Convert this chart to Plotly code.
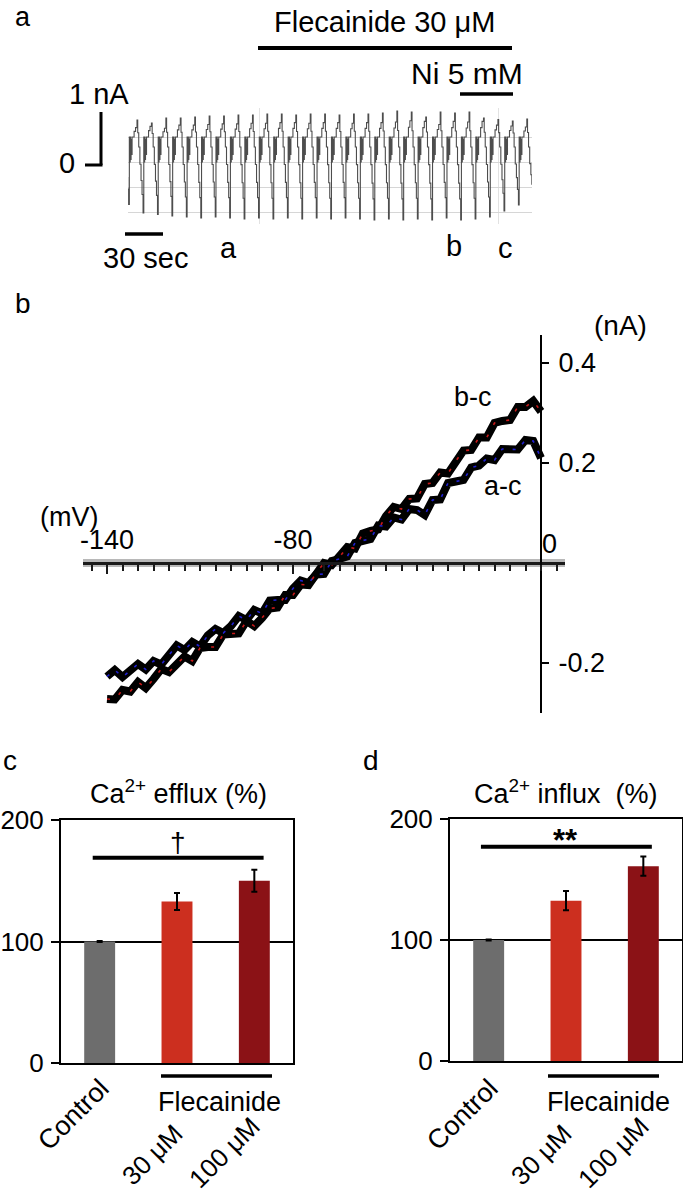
import plotly.graph_objects as go

W, H = 683, 1196
FONT = "Liberation Sans"


def PX(x):
    return x / W


def PY(y):
    return 1 - y / H


# ---------------- Panel a: current trace ----------------
# one voltage-ramp cycle (phase within cycle, current in nA for a cycle with peak 0.9 / trough -1.1)
CYCLE_PHASE = [0.00, 0.05, 0.12, 0.20, 0.28, 0.35, 0.42, 0.47, 0.50, 0.53, 0.56, 0.59, 0.63, 0.66, 0.80, 0.90]
CYCLE_LEVEL = [0.90, 0.60, 0.30, -0.05, -0.40, -0.70, -1.10, 0.50, 0.00, 0.50, 0.05, 0.45, 0.15, 0.50, 0.65, 0.75]
# per-cycle peak and trough currents (nA), first entry = partial cycle before the first peak
CYCLE_PEAK = [0.80, 0.84, 0.78, 0.88, 0.88, 0.90, 0.92, 0.92, 0.94, 0.94, 0.96, 0.96, 0.94, 0.96, 0.96,
              0.94, 0.96, 0.96, 0.98, 1.02, 1.00, 0.90, 1.00, 0.98, 1.00, 0.88, 0.85, 0.82, 0.86]
CYCLE_TROUGH = [-0.85, -1.02, -1.05, -1.08, -1.10, -1.12, -1.10, -1.12, -1.14, -1.12, -1.14, -1.12, -1.14,
                -1.12, -1.14, -1.12, -1.14, -1.16, -1.14, -1.16, -1.14, -1.16, -1.12, -1.16, -1.14, -1.10,
                -0.98, -0.86, -0.70]
FIRST_PEAK_S = 7.2
PERIOD_S = 11.55
TRACE_END_S = 323.2
GRID_NA = [0.5, 0.0, -0.5, -1.0]
EVENT_S = [104.8, 296.0]

# ---------------- Panel b: I-V curves ----------------
MV = [-140, -137.5, -135, -132.5, -130, -127.5, -125, -122.5, -120, -117.5, -115, -112.5, -110, -107.5,
      -105, -102.5, -100, -97.5, -95, -92.5, -90, -87.5, -85, -82.5, -80, -77.5, -75, -72.5, -70, -67.5,
      -65, -62.5, -60, -57.5, -55, -52.5, -50, -47.5, -45, -42.5, -40, -37.5, -35, -32.5, -30, -27.5,
      -25, -22.5, -20, -17.5, -15, -12.5, -10, -7.5, -5, -2.5, 0]
AC_NA = [-0.227, -0.214, -0.228, -0.214, -0.202, -0.213, -0.196, -0.203, -0.184, -0.165, -0.174, -0.158,
         -0.167, -0.145, -0.132, -0.140, -0.126, -0.106, -0.114, -0.094, -0.101, -0.075, -0.074, -0.074,
         -0.051, -0.035, -0.040, -0.023, -0.022, 0.004, 0.008, 0.013, 0.040, 0.045, 0.048, 0.075, 0.073,
         0.091, 0.087, 0.108, 0.106, 0.096, 0.126, 0.127, 0.160, 0.163, 0.166, 0.191, 0.195, 0.209, 0.206,
         0.228, 0.227, 0.227, 0.246, 0.244, 0.210]
BC_NA = [-0.272, -0.273, -0.254, -0.257, -0.238, -0.250, -0.232, -0.212, -0.218, -0.202, -0.187, -0.196,
         -0.170, -0.168, -0.168, -0.143, -0.141, -0.141, -0.116, -0.126, -0.110, -0.091, -0.089, -0.064,
         -0.064, -0.043, -0.044, -0.020, 0.000, -0.004, 0.012, 0.032, 0.029, 0.059, 0.064, 0.067, 0.094,
         0.112, 0.108, 0.128, 0.129, 0.158, 0.160, 0.181, 0.179, 0.204, 0.225, 0.226, 0.251, 0.251, 0.280,
         0.284, 0.286, 0.312, 0.312, 0.324, 0.303]

# ---------------- Panels c, d: bar charts ----------------
GROUPS = ["Control", "30 μM", "100 μM"]
BAR_COLORS = ["#6d6d6d", "#cc2f1f", "#8b1216"]
EFFLUX = [100, 133, 150]
EFFLUX_ERR = [0.5, 7, 9]
INFLUX = [100, 132.5, 161]
INFLUX_ERR = [0.5, 8, 8]
EFFLUX_SIG_Y = 169
INFLUX_SIG_Y = 177

# ---------------- build trace for panel a ----------------
tx, ty = [], []
for k in range(len(CYCLE_PEAK)):
    start = FIRST_PEAK_S + (k - 1) * PERIOD_S
    P, T = CYCLE_PEAK[k], CYCLE_TROUGH[k]
    for ph, lv in zip(CYCLE_PHASE, CYCLE_LEVEL):
        if lv > 0.5:
            v = 0.5 + (lv - 0.5) * (P - 0.5) / 0.4
        elif lv < 0:
            v = lv * T / -1.1
        else:
            v = lv
        tx.append(start + ph * PERIOD_S)
        ty.append(v)

fig = go.Figure()

fig.add_trace(go.Scatter(x=tx, y=ty, mode="lines", line=dict(color="#4d4d4d", width=1.1, shape="hv"),
                         xaxis="x", yaxis="y", showlegend=False, hoverinfo="skip"))

# I-V curves: black outline then colored core
for ys in (AC_NA, BC_NA):
    fig.add_trace(go.Scatter(x=MV, y=ys, mode="lines", line=dict(color="black", width=8),
                             xaxis="x2", yaxis="y2", showlegend=False))
fig.add_trace(go.Scatter(x=MV, y=AC_NA, mode="lines", line=dict(color="#2020d0", width=1.6, dash="3px,9px"),
                         xaxis="x2", yaxis="y2", showlegend=False))
fig.add_trace(go.Scatter(x=MV, y=BC_NA, mode="lines", line=dict(color="#c81818", width=1.6, dash="3px,11px"),
                         xaxis="x2", yaxis="y2", showlegend=False))

# bar charts
xpos = [0, 1, 2]
fig.add_trace(go.Bar(x=xpos, y=EFFLUX, width=0.4, marker=dict(color=BAR_COLORS, line=dict(width=0)),
                     error_y=dict(type="data", array=EFFLUX_ERR, color="black", thickness=2, width=3),
                     xaxis="x3", yaxis="y3", showlegend=False))
fig.add_trace(go.Bar(x=xpos, y=INFLUX, width=0.4, marker=dict(color=BAR_COLORS, line=dict(width=0)),
                     error_y=dict(type="data", array=INFLUX_ERR, color="black", thickness=2, width=3),
                     xaxis="x4", yaxis="y4", showlegend=False))

# ---------------- axes ----------------
px_per_mv = 3.1
x0_px, y0_px, px_per_na = 541, 563, 500

layout = dict(
    width=W, height=H, margin=dict(l=0, r=0, t=0, b=0, autoexpand=False),
    paper_bgcolor="white", plot_bgcolor="rgba(0,0,0,0)",
    font=dict(family=FONT, color="black", size=27),
    showlegend=False,
    # panel a
    xaxis=dict(domain=[PX(128), PX(532)], range=[0, TRACE_END_S], anchor="y", automargin=False,
               tickvals=EVENT_S, showticklabels=False, ticks="", showgrid=True, gridcolor="#e2e2e2",
               gridwidth=1, zeroline=False, showline=False),
    yaxis=dict(domain=[PY(224), PY(108)], range=[(162 - 224) / 50, (162 - 108) / 50], anchor="x",
               automargin=False,
               tickvals=GRID_NA, showticklabels=False, ticks="", showgrid=True, gridcolor="#d6d6d6",
               gridwidth=1, zeroline=False, showline=False),
    # panel b
    xaxis2=dict(domain=[PX(83), PX(565)],
                range=[(83 - x0_px) / px_per_mv, (565 - x0_px) / px_per_mv],
                anchor="free", position=PY(y0_px), side="top", automargin=False,
                showline=True, linecolor="#1a1a1a", linewidth=3,
                tickvals=[-140, -80], ticktext=["-140", "-80"],
                ticks="inside", ticklen=9, tickwidth=2, tickcolor="#1a1a1a",
                minor=dict(dtick=5, tick0=0, ticks="inside", ticklen=6, tickwidth=1.5, tickcolor="#1a1a1a"),
                tickfont=dict(size=27), ticklabelstandoff=2,
                showgrid=False, zeroline=False),
    yaxis2=dict(domain=[PY(713), PY(335)],
                range=[(y0_px - 713) / px_per_na, (y0_px - 335) / px_per_na],
                anchor="free", position=PX(x0_px), side="right", automargin=False,
                showline=True, linecolor="black", linewidth=2,
                tickvals=[-0.2, 0.2, 0.4], ticktext=["-0.2", "0.2", "0.4"],
                ticks="outside", ticklen=7, tickwidth=2, tickcolor="black",
                tickfont=dict(size=27), ticklabelstandoff=4,
                showgrid=False, zeroline=False),
)

bar_y = dict(range=[0, 200], tickvals=[0, 100, 200], ticks="outside", ticklen=8, tickwidth=1.5,
             tickcolor="black", showline=True, linecolor="black", linewidth=2, mirror=True,
             showgrid=True, gridcolor="black", gridwidth=1.5, zeroline=False, automargin=False,
             tickfont=dict(size=26), ticklabelstandoff=2)
bar_x = dict(range=[-0.5, 2.5], showticklabels=False, ticks="", showline=True, linecolor="black",
             linewidth=2, mirror=True, showgrid=False, zeroline=False, automargin=False)
layout["xaxis3"] = dict(bar_x, domain=[PX(61), PX(293)], anchor="y3")
layout["yaxis3"] = dict(bar_y, domain=[PY(1063), PY(820)], anchor="x3")
layout["xaxis4"] = dict(bar_x, domain=[PX(450), PX(682)], anchor="y4")
layout["yaxis4"] = dict(bar_y, domain=[PY(1061), PY(819)], anchor="x4")

fig.update_layout(**layout)

# ---------------- shapes ----------------
def pline(x0, y0, x1, y1, w=3, color="black", layer="above"):
    fig.add_shape(type="line", xref="paper", yref="paper", x0=PX(x0), y0=PY(y0), x1=PX(x1), y1=PY(y1),
                  line=dict(color=color, width=w), layer=layer)

pline(258, 48, 512, 48, 4)      # Flecainide bar
pline(460, 94, 513, 94, 3.5)    # Ni bar
pline(101, 112, 101, 165, 3)    # 1 nA scale
pline(85, 165, 102.5, 165, 3)
pline(125, 234, 163, 234, 3.5)  # 30 sec scale
pline(83, y0_px, 565, y0_px, 8, "rgba(0,0,0,0.28)", "below")  # axis shadow
pline(161, 1076, 272, 1076, 3.5)  # Flecainide group bar c
pline(548, 1076, 659, 1076, 3.5)  # Flecainide group bar d

fig.add_shape(type="line", xref="x3", yref="y3", x0=-0.09, x1=2.12, y0=EFFLUX_SIG_Y, y1=EFFLUX_SIG_Y,
              line=dict(color="black", width=4))
fig.add_shape(type="line", xref="x4", yref="y4", x0=-0.1, x1=2.11, y0=INFLUX_SIG_Y, y1=INFLUX_SIG_Y,
              line=dict(color="black", width=4))

# ---------------- text ----------------
def ann(text, x, y, size=27, angle=0, xanchor="center", yanchor="middle"):
    fig.add_annotation(text=text, x=PX(x), y=PY(y), xref="paper", yref="paper", showarrow=False,
                       font=dict(size=size, family=FONT, color="black"), textangle=angle,
                       xanchor=xanchor, yanchor=yanchor)

ann("a", 23, 17, 27)
ann("Flecainide 30 μM", 384, 22, 29)
ann("Ni 5 mM", 467, 73, 30)
ann("1 nA", 99, 94, 29)
ann("0", 67, 163, 29)
ann("30 sec", 145, 258, 29)
ann("a", 228, 248, 29)
ann("b", 454, 246, 29)
ann("c", 505, 248, 29)

ann("b", 23, 303, 28)
ann("(nA)", 620, 325, 28)
ann("(mV)", 69, 517, 27)
ann("0", 549, 544, 27)
fig.add_annotation(text="b-c", x=-22, y=0.333, xref="x2", yref="y2", showarrow=False,
                   font=dict(size=27, family=FONT))
fig.add_annotation(text="a-c", x=-12.4, y=0.155, xref="x2", yref="y2", showarrow=False,
                   font=dict(size=27, family=FONT))

ann("c", 10, 760, 28)
ann("d", 371, 760, 28)
ann("Ca<sup>2+</sup> efflux (%)", 178, 792, 27)
ann("Ca<sup>2+</sup> influx  (%)", 566, 792, 27)
ann("†", 178, 842, 28)
ann("<b>**</b>", 565, 840, 31)
for dx in (0, 389):
    ann("Flecainide", 219 + dx, 1102, 27)
    ann(GROUPS[0], 73 + dx, 1115, 27, -45)
    ann(GROUPS[1], 152 + dx, 1155, 26, -45)
    ann(GROUPS[2], 224 + dx, 1153, 26, -45)

fig.write_html("out.html", config={"displayModeBar": False},
               post_script="document.body.style.margin='0px';document.body.style.overflow='hidden';")
